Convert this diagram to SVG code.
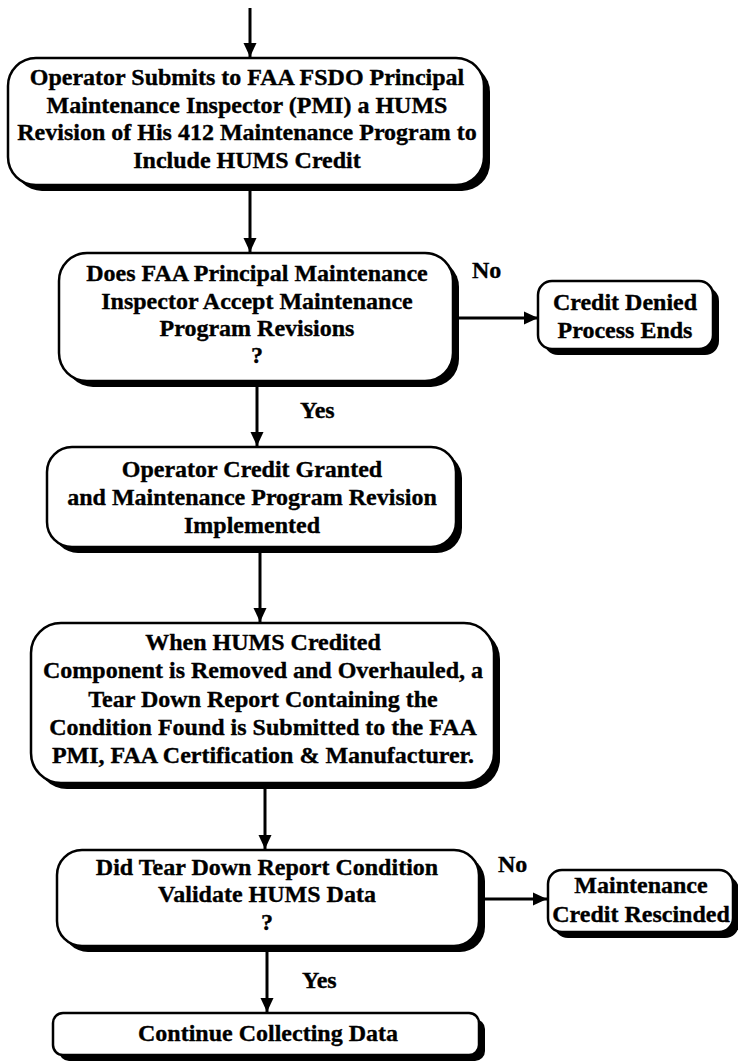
<svg xmlns="http://www.w3.org/2000/svg" width="738" height="1061" viewBox="0 0 738 1061">
<defs>
<style>
.box{fill:#fff;stroke:#000;stroke-width:2.5}
.sh{fill:#000}
.t{font-family:"Liberation Serif","Times New Roman",serif;font-weight:bold;font-size:24px;fill:#000;stroke:#000;stroke-width:0.35;text-anchor:middle}
.l{font-family:"Liberation Serif","Times New Roman",serif;font-weight:bold;font-size:24px;fill:#000;stroke:#000;stroke-width:0.35}
.c{stroke:#000;stroke-width:3;fill:none}
</style>
<marker id="ah" markerUnits="userSpaceOnUse" markerWidth="16" markerHeight="16" viewBox="0 0 16 16" refX="15" refY="8" orient="auto">
<path d="M1,1.5 L15,8 L1,14.5 Z" fill="#000"/>
</marker>
</defs>
<rect width="738" height="1061" fill="#fff"/>
<g id="connectors">
<line class="c" x1="250" y1="8" x2="250" y2="57" marker-end="url(#ah)"/>
<line class="c" x1="250" y1="191" x2="250" y2="252" marker-end="url(#ah)"/>
<line class="c" x1="459" y1="318" x2="538" y2="318" marker-end="url(#ah)"/>
<line class="c" x1="257" y1="387" x2="257" y2="446" marker-end="url(#ah)"/>
<line class="c" x1="260" y1="553" x2="260" y2="622" marker-end="url(#ah)"/>
<line class="c" x1="265" y1="789" x2="265" y2="849" marker-end="url(#ah)"/>
<line class="c" x1="485" y1="899" x2="547" y2="899" marker-end="url(#ah)"/>
<line class="c" x1="267" y1="952" x2="267" y2="1012" marker-end="url(#ah)"/>
<text class="l" x="472" y="278">No</text>
<text class="l" x="300" y="418">Yes</text>
<text class="l" x="498" y="872">No</text>
<text class="l" x="302" y="988">Yes</text>
</g>
<g id="n1">
<rect class="sh" x="14" y="64" width="476" height="127" rx="28"/>
<rect class="box" x="8" y="58" width="476" height="127" rx="28"/>
<text class="t" x="247" y="85">Operator Submits to FAA  FSDO Principal</text>
<text class="t" x="247" y="112.5">Maintenance Inspector (PMI) a HUMS</text>
<text class="t" x="247" y="140">Revision of His 412 Maintenance Program to</text>
<text class="t" x="247" y="167.5">Include HUMS Credit</text>
</g>
<g id="n2">
<rect class="sh" x="65" y="259" width="394" height="128" rx="28"/>
<rect class="box" x="59" y="253" width="394" height="128" rx="28"/>
<text class="t" x="257" y="281">Does FAA Principal Maintenance</text>
<text class="t" x="257" y="309">Inspector Accept Maintenance</text>
<text class="t" x="257" y="336">Program Revisions</text>
<text class="t" x="257" y="363">?</text>
</g>
<g id="n3">
<rect class="sh" x="544" y="287" width="175" height="68" rx="14"/>
<rect class="box" x="538" y="281" width="175" height="68" rx="14"/>
<text class="t" x="625" y="310">Credit Denied</text>
<text class="t" x="625" y="338">Process Ends</text>
</g>
<g id="n4">
<rect class="sh" x="53" y="453" width="409" height="100" rx="25"/>
<rect class="box" x="47" y="447" width="409" height="100" rx="25"/>
<text class="t" x="252" y="477">Operator Credit Granted</text>
<text class="t" x="252" y="505">and Maintenance Program Revision</text>
<text class="t" x="252" y="533">Implemented</text>
</g>
<g id="n5">
<rect class="sh" x="37" y="629" width="463" height="160" rx="30"/>
<rect class="box" x="31" y="623" width="463" height="160" rx="30"/>
<text class="t" x="263" y="650">When HUMS Credited</text>
<text class="t" x="263" y="678">Component  is Removed and Overhauled, a</text>
<text class="t" x="263" y="707">Tear Down Report Containing the</text>
<text class="t" x="263" y="735">Condition Found is Submitted to the FAA</text>
<text class="t" x="263" y="763">PMI, FAA Certification &amp; Manufacturer.</text>
</g>
<g id="n6">
<rect class="sh" x="63" y="856" width="422" height="96" rx="25"/>
<rect class="box" x="57" y="850" width="422" height="96" rx="25"/>
<text class="t" x="267" y="875">Did Tear Down Report Condition</text>
<text class="t" x="267" y="902">Validate HUMS Data</text>
<text class="t" x="267" y="930">?</text>
</g>
<g id="n7">
<rect class="sh" x="554" y="876" width="185" height="62" rx="14"/>
<rect class="box" x="548" y="870" width="185" height="62" rx="14"/>
<text class="t" x="641" y="893">Maintenance</text>
<text class="t" x="641" y="922">Credit Rescinded</text>
</g>
<g id="n8">
<rect class="sh" x="59" y="1019" width="426" height="42" rx="10"/>
<rect class="box" x="53" y="1013" width="426" height="42" rx="10"/>
<text class="t" x="268" y="1041">Continue Collecting Data</text>
</g>
</svg>
